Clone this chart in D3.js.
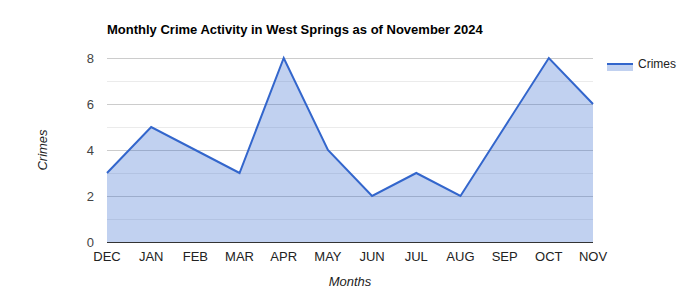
<!DOCTYPE html>
<html><head><meta charset="utf-8">
<script src="https://cdnjs.cloudflare.com/ajax/libs/d3/7.8.5/d3.min.js"></script>
<style>body{margin:0;background:#fff}svg{display:block;font-family:Arial,"Liberation Sans",sans-serif}</style>
</head><body>
<script>
const months = ["DEC","JAN","FEB","MAR","APR","MAY","JUN","JUL","AUG","SEP","OCT","NOV"];
const crimes = [3,5,4,3,8,4,2,3,2,5,8,6];
const yTicks = [0,2,4,6,8];
const yMinor = [1,3,5,7];
const title = "Monthly Crime Activity in West Springs as of November 2024";
const seriesName = "Crimes";

const W=700,H=300;
const svg=d3.select("body").append("svg").attr("width",W).attr("height",H);
const pL=107,pR=593,pT=58,pB=242;
const x=d3.scalePoint().domain(months).range([pL,pR]);
const y=d3.scaleLinear().domain([0,8]).range([pB,pT]);

svg.append("g").selectAll("line").data(yMinor).join("line")
 .attr("x1",pL).attr("x2",pR).attr("y1",d=>y(d)).attr("y2",d=>y(d))
 .attr("stroke","#ebebeb").attr("stroke-width",1).attr("shape-rendering","crispEdges");
svg.append("g").selectAll("line").data(yTicks.filter(d=>d>0)).join("line")
 .attr("x1",pL).attr("x2",pR).attr("y1",d=>y(d)).attr("y2",d=>y(d))
 .attr("stroke","#cccccc").attr("stroke-width",1).attr("shape-rendering","crispEdges");

const data=months.map((m,i)=>({m,v:crimes[i]}));
svg.append("path").datum(data)
 .attr("d",d3.area().x(d=>x(d.m)).y0(y(0)).y1(d=>y(d.v)))
 .attr("fill","#3366cc").attr("fill-opacity",0.3);
svg.append("line").attr("x1",pL).attr("x2",pR).attr("y1",y(0)).attr("y2",y(0))
 .attr("stroke","#333").attr("stroke-width",1).attr("shape-rendering","crispEdges");
svg.append("path").datum(data)
 .attr("d",d3.line().x(d=>x(d.m)).y(d=>y(d.v)))
 .attr("fill","none").attr("stroke","#3366cc").attr("stroke-width",2).attr("stroke-linejoin","miter");

svg.append("g").selectAll("text").data(yTicks).join("text")
 .attr("x",94).attr("y",d=>y(d)+4.5).attr("text-anchor","end")
 .attr("font-size",13).attr("fill","#444").text(d=>d);
svg.append("g").selectAll("text").data(months).join("text")
 .attr("x",d=>x(d)).attr("y",261).attr("text-anchor","middle")
 .attr("font-size",13).attr("fill","#222").text(d=>d);

svg.append("text").attr("x",107).attr("y",34).attr("font-size",13).attr("font-weight","bold")
 .attr("fill","#000").text(title);
svg.append("text").attr("transform","translate(47,150) rotate(-90)").attr("text-anchor","middle")
 .attr("font-size",13).attr("font-style","italic").attr("fill","#222").text("Crimes");
svg.append("text").attr("x",350).attr("y",286).attr("text-anchor","middle")
 .attr("font-size",13).attr("font-style","italic").attr("fill","#222").text("Months");

svg.append("rect").attr("x",607).attr("y",64).attr("width",26).attr("height",7)
 .attr("fill","#3366cc").attr("fill-opacity",0.3);
svg.append("line").attr("x1",607).attr("x2",633).attr("y1",64).attr("y2",64)
 .attr("stroke","#3366cc").attr("stroke-width",2);
svg.append("text").attr("x",638).attr("y",68).attr("font-size",12).attr("fill","#222").text(seriesName);
</script>
</body></html>
